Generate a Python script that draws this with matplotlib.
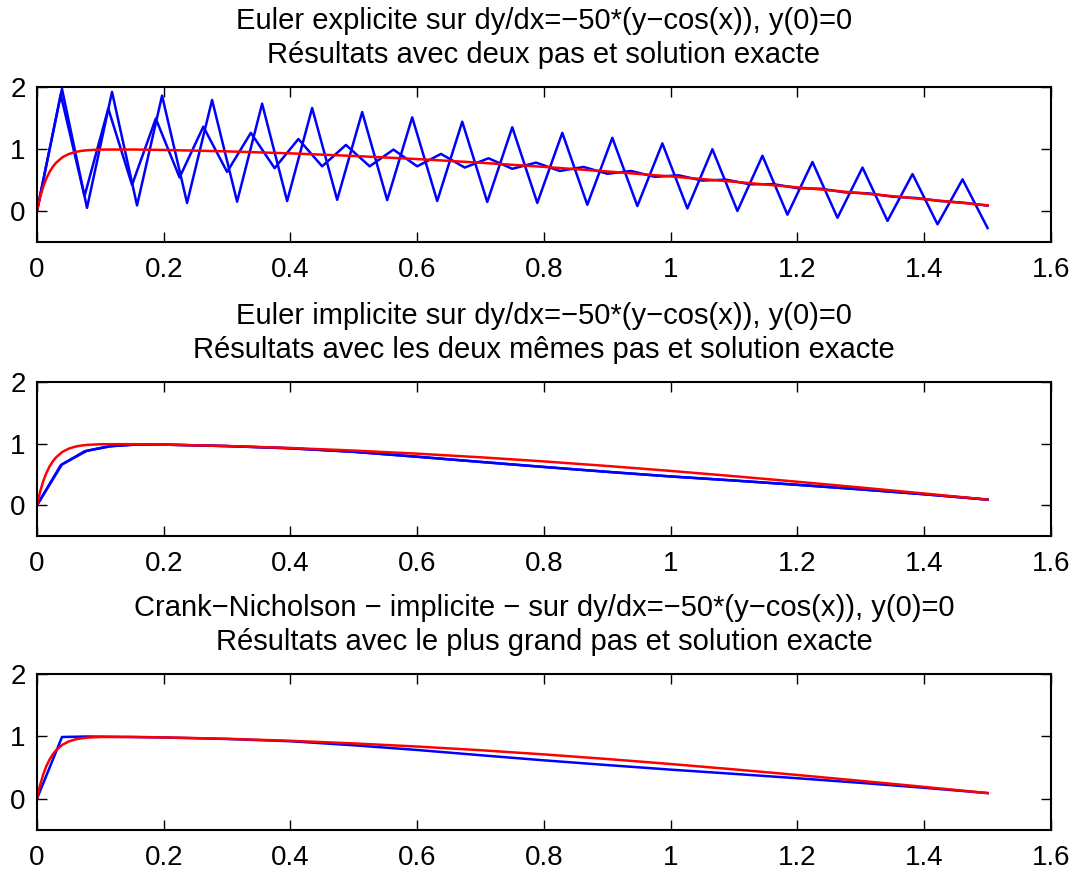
import numpy as np
import matplotlib
matplotlib.use("Agg")
import matplotlib.pyplot as plt

# x grids of the two step sizes (38 and 40 steps over [0, 1.5])
n_big, n_small = 38, 40

# Euler explicite, grand pas
y_expl_big = [0, 1.97, 0.05, 1.92, 0.09, 1.86, 0.13, 1.79, 0.15, 1.73,
              0.16, 1.66, 0.18, 1.595, 0.175, 1.51, 0.16, 1.44, 0.145, 1.35,
              0.13, 1.26, 0.10, 1.18, 0.08, 1.09, 0.04, 0.995, 0.0, 0.89,
              -0.06, 0.79, -0.11, 0.70, -0.16, 0.595, -0.215, 0.51, -0.275]
# Euler explicite, petit pas
y_expl_small = [0, 1.875, 0.24, 1.65, 0.42, 1.49, 0.54, 1.36, 0.63, 1.26,
                0.69, 1.16, 0.72, 1.065, 0.72, 0.99, 0.72, 0.92, 0.70, 0.85,
                0.68, 0.78, 0.645, 0.71, 0.60, 0.645, 0.55, 0.575, 0.49, 0.505,
                0.43, 0.432, 0.367, 0.358, 0.30, 0.284, 0.23, 0.209, 0.16, 0.133,
                0.086]

# solution exacte
x_exact = [0, 0.005, 0.01, 0.015, 0.02, 0.025, 0.03, 0.04, 0.05, 0.06, 0.07,
           0.08, 0.1, 0.15, 0.2, 0.3, 0.4, 0.5, 0.6, 0.7, 0.8, 0.9, 1.0,
           1.1, 1.2, 1.3, 1.4, 1.5]
y_exact = [0, 0.222, 0.394, 0.528, 0.632, 0.713, 0.776, 0.865, 0.918, 0.950,
           0.969, 0.980, 0.990, 0.991, 0.984, 0.961, 0.929, 0.887, 0.837,
           0.778, 0.711, 0.637, 0.557, 0.471, 0.381, 0.287, 0.190, 0.091]

# Euler implicite, deux pas
x_impl_small = [0, 0.0375, 0.075, 0.1125, 0.15, 0.2, 0.3, 0.4, 0.5, 0.6, 0.7,
                0.8, 0.9, 1.0, 1.1, 1.2, 1.3, 1.4, 1.5]
y_impl_small = [0, 0.65, 0.875, 0.955, 0.982, 0.984, 0.96, 0.924, 0.867,
                0.787, 0.703, 0.621, 0.542, 0.467, 0.401, 0.331, 0.257,
                0.178, 0.091]
x_impl_big = [0, 0.0395, 0.079, 0.118, 0.158, 0.2, 0.3, 0.4, 0.5, 0.6, 0.7,
              0.8, 0.9, 1.0, 1.1, 1.2, 1.3, 1.4, 1.5]
y_impl_big = [0, 0.663, 0.885, 0.96, 0.985, 0.984, 0.96, 0.924, 0.867,
              0.787, 0.703, 0.621, 0.542, 0.467, 0.401, 0.331, 0.257,
              0.178, 0.091]

# Crank-Nicholson, grand pas
x_cn = [0, 0.0395, 0.079, 0.118, 0.158, 0.2, 0.3, 0.4, 0.5, 0.6, 0.7,
        0.8, 0.9, 1.0, 1.1, 1.2, 1.3, 1.4, 1.5]
y_cn = [0, 0.99, 0.998, 0.993, 0.988, 0.982, 0.958, 0.922, 0.857, 0.782,
        0.698, 0.616, 0.540, 0.467, 0.399, 0.329, 0.255, 0.176, 0.091]

titles = [
    "Euler explicite sur dy/dx=\u221250*(y\u2212cos(x)), y(0)=0\n"
    "Résultats avec deux pas et solution exacte",
    "Euler implicite sur dy/dx=\u221250*(y\u2212cos(x)), y(0)=0\n"
    "Résultats avec les deux mêmes pas et solution exacte",
    "Crank\u2212Nicholson \u2212 implicite \u2212 sur dy/dx=\u221250*(y\u2212cos(x)), y(0)=0\n"
    "Résultats avec le plus grand pas et solution exacte",
]
xticks = [0, 0.2, 0.4, 0.6, 0.8, 1, 1.2, 1.4, 1.6]
xticklabels = ["0", "0.2", "0.4", "0.6", "0.8", "1", "1.2", "1.4", "1.6"]
yticks = [0, 1, 2]

plt.rcParams["font.family"] = ["Liberation Sans", "DejaVu Sans"]

fig = plt.figure(figsize=(10.78, 8.72), dpi=100)
boxes = [[0.0343, 0.7225, 0.9406, 0.1778],
         [0.0343, 0.3853, 0.9406, 0.1766],
         [0.0343, 0.0482, 0.9406, 0.1789]]
axes = [fig.add_axes(b) for b in boxes]

lw = 1.8
x_big = np.linspace(0, 1.5, n_big + 1)
x_small = np.linspace(0, 1.5, n_small + 1)
axes[0].plot(x_big, y_expl_big, color="b", lw=lw)
axes[0].plot(x_small, y_expl_small, color="b", lw=lw)
axes[0].plot(x_exact, y_exact, color="r", lw=lw)

axes[1].plot(x_impl_big, y_impl_big, color="b", lw=lw)
axes[1].plot(x_impl_small, y_impl_small, color="b", lw=lw)
axes[1].plot(x_exact, y_exact, color="r", lw=lw)

axes[2].plot(x_cn, y_cn, color="b", lw=lw)
axes[2].plot(x_exact, y_exact, color="r", lw=lw)

for ax, t in zip(axes, titles):
    ax.set_xlim(0, 1.6)
    ax.set_ylim(-0.5, 2)
    ax.set_xticks(xticks)
    ax.set_xticklabels(xticklabels)
    ax.set_yticks(yticks)
    ax.tick_params(direction="in", length=7.2, width=1, top=True, right=True,
                   labelsize=20)
    ax.tick_params(axis="x", pad=11)
    ax.tick_params(axis="y", pad=8)
    for s in ax.spines.values():
        s.set_linewidth(1.5)
    ax.set_title(t, fontsize=21, linespacing=1.3, pad=17)

fig.savefig("out.png", dpi=100)
